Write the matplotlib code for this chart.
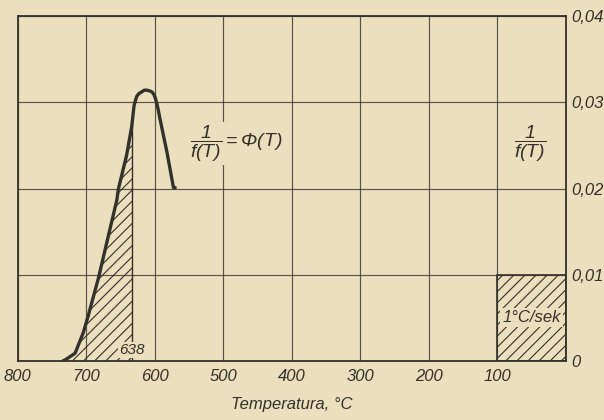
import matplotlib
matplotlib.use("Agg")
import matplotlib.pyplot as plt
from matplotlib.patches import Rectangle
import numpy as np

# Data
curve_T = [734, 731, 716, 704, 697, 682, 667.5, 655, 653, 641, 633.4, 630, 628, 626, 623, 619, 615, 611, 607, 604, 601, 599, 596, 592, 582, 572.5, 570]
curve_v = [0.0, 0.0001, 0.0009, 0.0033, 0.0052, 0.0096, 0.0145, 0.0187, 0.0199, 0.0238, 0.0272, 0.0296, 0.0302, 0.0307, 0.0310, 0.0312, 0.0314, 0.0314, 0.0313, 0.0312, 0.0309, 0.0305, 0.0296, 0.028, 0.0242, 0.0201, 0.0201]
hatch_T = 633            # boundary of the hatched area (labelled 638)
hatch_label = "638"
box_T = [100, 0]
box_v = 0.01
box_label = "1°C/sek"
x_ticks = [800, 700, 600, 500, 400, 300, 200, 100]
y_ticks = [0, 0.01, 0.02, 0.03, 0.04]
y_ticklabels = ["0", "0,01", "0,02", "0,03", "0,04"]
xlabel = "Temperatura, °C"

bg = "#ecdfbd"
ink = "#34302b"
fam = ["Liberation Sans", "DejaVu Sans"]

plt.rcParams["font.family"] = fam
plt.rcParams["font.style"] = "italic"
plt.rcParams["mathtext.fontset"] = "custom"
plt.rcParams["mathtext.it"] = "Liberation Sans:italic"
plt.rcParams["mathtext.rm"] = "Liberation Sans:italic"
plt.rcParams["mathtext.bf"] = "Liberation Sans:italic"
plt.rcParams["mathtext.sf"] = "Liberation Sans:italic"
plt.rcParams["hatch.linewidth"] = 0.8
plt.rcParams["hatch.color"] = ink

fig = plt.figure(figsize=(6.04, 4.20), dpi=100, facecolor=bg)
ax = fig.add_axes([17.5 / 604, 1 - 361 / 420, (566 - 17.5) / 604, (361 - 16) / 420])
ax.set_facecolor(bg)
ax.set_xlim(800, 0)
ax.set_ylim(0, 0.04)

# grid
ax.set_xticks(x_ticks + [0])
ax.set_xticklabels([str(t) for t in x_ticks] + [""])
ax.set_yticks(y_ticks)
ax.set_yticklabels(y_ticklabels)
ax.yaxis.tick_right()
ax.grid(True, color=ink, lw=0.85, alpha=0.8)
ax.set_axisbelow(True)
ax.tick_params(axis="both", length=0, labelsize=12, colors=ink)
ax.tick_params(axis="x", pad=6)
ax.tick_params(axis="y", pad=4)
for s in ax.spines.values():
    s.set_color(ink)
    s.set_linewidth(1.3)

T = np.array(curve_T)
V = np.array(curve_v)

# hatched area under the curve up to hatch_T
mask = T >= hatch_T
Th = np.append(T[mask], hatch_T)
Vh = np.append(V[mask], np.interp(-hatch_T, -T, V))
ax.fill_between(Th, 0, Vh, facecolor="none", edgecolor=ink, hatch="///", linewidth=0, zorder=2)
ax.plot([hatch_T, hatch_T], [0, Vh[-1]], color=ink, lw=1.0, zorder=3)

# curve
ax.plot(T, V, color=ink, lw=2.4, solid_capstyle="round", solid_joinstyle="round", zorder=4)

# hatched box
rect = Rectangle((box_T[0], 0), box_T[1] - box_T[0], box_v, facecolor="none",
                 edgecolor=ink, hatch="///", linewidth=1.2, zorder=2)
ax.add_patch(rect)

ax.text(hatch_T, 0.0013, hatch_label, ha="center", va="center", fontsize=11, color=ink,
        bbox=dict(facecolor=bg, edgecolor="none", pad=0.5), zorder=5)
ax.text(50, 0.0051, box_label, ha="center", va="center", fontsize=12, color=ink,
        bbox=dict(facecolor=bg, edgecolor="none", pad=1.5), zorder=5)

ax.text(481, 0.0252, r"$\dfrac{1}{f(T)}=\Phi(T)$", ha="center", va="center", fontsize=14, color=ink,
        bbox=dict(facecolor=bg, edgecolor="none", pad=1), zorder=5)
ax.text(52, 0.0252, r"$\dfrac{1}{f(T)}$", ha="center", va="center", fontsize=14, color=ink,
        bbox=dict(facecolor=bg, edgecolor="none", pad=1), zorder=5)

ax.set_xlabel(xlabel, fontsize=12, color=ink, labelpad=9)

fig.savefig("out.png", dpi=100, facecolor=bg)
